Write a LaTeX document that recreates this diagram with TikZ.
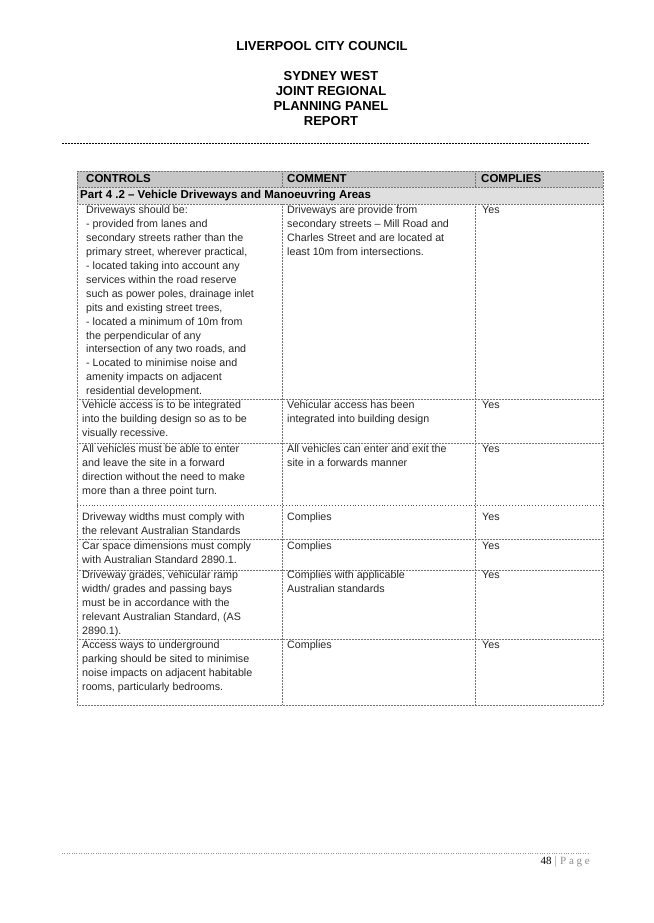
\documentclass[tikz,border=0pt]{standalone}
\usepackage{fontspec}
\setmainfont{Liberation Sans}
\newfontfamily\pgfont{Liberation Serif}
\begin{document}
\begin{tikzpicture}[x=1pt,y=-1pt,
  cell/.style={anchor=north west,align=left,inner sep=0pt,font=\fontsize{10.7}{13.9}\selectfont,text=black!85},
  hdr/.style={anchor=west,inner sep=0pt,font=\fontsize{11.5}{12}\selectfont\bfseries},
  grid/.style={black!55,densely dotted,line width=0.5pt},
  ttl/.style={inner sep=0pt,font=\fontsize{13}{14}\selectfont\bfseries}]
\useasboundingbox (0,0) rectangle (653,923);
\node[ttl] (t0) at (322,46) {LIVERPOOL CITY COUNCIL};
\node[ttl] (t1) at (331,76) {SYDNEY WEST};
\node[ttl] (t2) at (331,91) {JOINT REGIONAL};
\node[ttl] (t3) at (331,106) {PLANNING PANEL};
\node[ttl] (t4) at (331,121) {REPORT};
\draw[black,dash pattern=on 2pt off 1pt,line width=0.6pt] (62,143) -- (590,143);
% header shading
\fill[gray!45] (77,171) rectangle (603,187);
\fill[gray!25] (77,187) rectangle (603,204);
\node[hdr] (h1) at (86,179) {CONTROLS};
\node[hdr] (h2) at (287,179) {COMMENT};
\node[hdr] (h3) at (481,179) {COMPLIES};
\node[hdr] (p) at (80,196) {Part 4 .2 -- Vehicle Driveways and Manoeuvring Areas};
% grid
\draw[grid] (77,171) rectangle (603,705);
\draw[grid] (282,171) -- (282,187);
\draw[grid] (475,171) -- (475,187);
\draw[grid] (282,204) -- (282,705);
\draw[grid] (475,204) -- (475,705);
\foreach \y in {187,204,399,443,539,570,639} \draw[grid] (77,\y) -- (603,\y);
\draw[black!70,dotted,line width=0.9pt] (77,505) -- (603,505);
% rows
\node[cell] (a1) at (86,206) {Driveways should be:\\- provided from lanes and\\secondary streets rather than the\\primary street, wherever practical,\\- located taking into account any\\services within the road reserve\\such as power poles, drainage inlet\\pits and existing street trees,\\- located a minimum of 10m from\\the perpendicular of any\\intersection of any two roads, and\\- Located to minimise noise and\\amenity impacts on adjacent\\residential development.};
\node[cell] (b1) at (287,206) {Driveways are provide from\\secondary streets -- Mill Road and\\Charles Street and are located at\\least 10m from intersections.};
\node[cell] (c1) at (482,206) {Yes};
\node[cell] (a2) at (82,401) {Vehicle access is to be integrated\\into the building design so as to be\\visually recessive.};
\node[cell] (b2) at (287,401) {Vehicular access has been\\integrated into building design};
\node[cell] (c2) at (482,401) {Yes};
\node[cell] (a3) at (82,445) {All vehicles must be able to enter\\and leave the site in a forward\\direction without the need to make\\more than a three point turn.};
\node[cell] (b3) at (287,445) {All vehicles can enter and exit the\\site in a forwards manner};
\node[cell] (c3) at (482,445) {Yes};
\node[cell] (a4) at (82,513) {Driveway widths must comply with\\the relevant Australian Standards};
\node[cell] (b4) at (287,513) {Complies};
\node[cell] (c4) at (482,513) {Yes};
\node[cell] (a5) at (82,542) {Car space dimensions must comply\\with Australian Standard 2890.1.};
\node[cell] (b5) at (287,542) {Complies};
\node[cell] (c5) at (482,542) {Yes};
\node[cell] (a6) at (82,571) {Driveway grades, vehicular ramp\\width/ grades and passing bays\\must be in accordance with the\\relevant Australian Standard, (AS\\2890.1).};
\node[cell] (b6) at (287,571) {Complies with applicable\\Australian standards};
\node[cell] (c6) at (482,571) {Yes};
\node[cell] (a7) at (82,641) {Access ways to underground\\parking should be sited to minimise\\noise impacts on adjacent habitable\\rooms, particularly bedrooms.};
\node[cell] (b7) at (287,641) {Complies};
\node[cell] (c7) at (482,641) {Yes};
% footer
\draw[black!40,dotted] (62,853) -- (590,853);
\node[inner sep=0pt,anchor=east,font=\pgfont\fontsize{11}{12}\selectfont] (pg) at (590,862) {48 {\color{black!60}$|$} {\color{black!45}P a g e}};
\end{tikzpicture}
\end{document}
